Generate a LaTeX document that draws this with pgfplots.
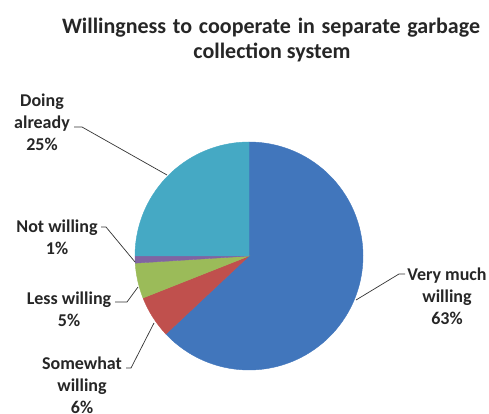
\documentclass[border=0pt]{standalone}
\usepackage{pgfplots}
\pgfplotsset{compat=1.18}
\usepackage{fontspec}
\setmainfont{Carlito}
\definecolor{cA}{HTML}{4176BC}
\definecolor{cB}{HTML}{C0504D}
\definecolor{cC}{HTML}{9BBB59}
\definecolor{cD}{HTML}{8064A2}
\definecolor{cE}{HTML}{45A9C4}
\definecolor{txt}{HTML}{262626}
\begin{document}
\begin{tikzpicture}
\begin{axis}[scale only axis, width=489bp, height=414bp,
  xmin=0, xmax=489, ymin=0, ymax=414, hide axis, clip=false]
% pie centre (249,158), radius 114; values in percent, clockwise from 90 deg
% Very much willing 63, Somewhat willing 6, Less willing 5, Not willing 1, Doing already 25
\addplot[fill=cA, draw=cA, domain={90-3.6*63}:{90}, samples=150]
  ({249+114*cos(x)},{158+114*sin(x)}) -- (axis cs:249,158) -- cycle;
\addplot[fill=cB, draw=cB, domain={90-3.6*69}:{90-3.6*63}, samples=30]
  ({249+114*cos(x)},{158+114*sin(x)}) -- (axis cs:249,158) -- cycle;
\addplot[fill=cC, draw=cC, domain={90-3.6*74}:{90-3.6*69}, samples=30]
  ({249+114*cos(x)},{158+114*sin(x)}) -- (axis cs:249,158) -- cycle;
\addplot[fill=cD, draw=cD, domain={90-3.6*75}:{90-3.6*74}, samples=10]
  ({249+114*cos(x)},{158+114*sin(x)}) -- (axis cs:249,158) -- cycle;
\addplot[fill=cE, draw=cE, domain={90-3.6*100}:{90-3.6*75}, samples=80]
  ({249+114*cos(x)},{158+114*sin(x)}) -- (axis cs:249,158) -- cycle;

% title
\node[txt, font={\fontsize{22bp}{25bp}\selectfont\bfseries}] at (axis cs:271,386) {\makebox[418bp][s]{Willingness to cooperate in separate garbage}};
\node[txt, font={\fontsize{22bp}{25bp}\selectfont\bfseries}] at (axis cs:272,361) {collection system};

% labels
\tikzset{lab/.style={txt, align=center, font={\fontsize{18bp}{22bp}\selectfont\bfseries}, inner sep=0pt}}
\node[lab] at (axis cs:42,292) {Doing\\already\\25\%};
\node[lab] at (axis cs:57,176.5) {Not willing\\1\%};
\node[lab] at (axis cs:69,105) {Less willing\\5\%};
\node[lab] at (axis cs:82,29) {Somewhat\\willing\\6\%};
\node[lab] at (axis cs:447,118) {Very much\\willing\\63\%};

% leader lines
\draw[black!80, line width=0.7bp] (axis cs:74,287) -- (axis cs:82,287) -- (axis cs:167,239);
\draw[black!80, line width=0.7bp] (axis cs:101,187) -- (axis cs:106,187) -- (axis cs:135,152);
\draw[black!80, line width=0.7bp] (axis cs:115,112) -- (axis cs:127,112) -- (axis cs:138,127);
\draw[black!80, line width=0.7bp] (axis cs:126,46) -- (axis cs:131,46) -- (axis cs:154,91);
\draw[black!80, line width=0.7bp] (axis cs:405,140) -- (axis cs:399,140) -- (axis cs:356,114);
\end{axis}
\pgfresetboundingbox
\path (0,0) rectangle (489bp,414bp);
\end{tikzpicture}
\end{document}
